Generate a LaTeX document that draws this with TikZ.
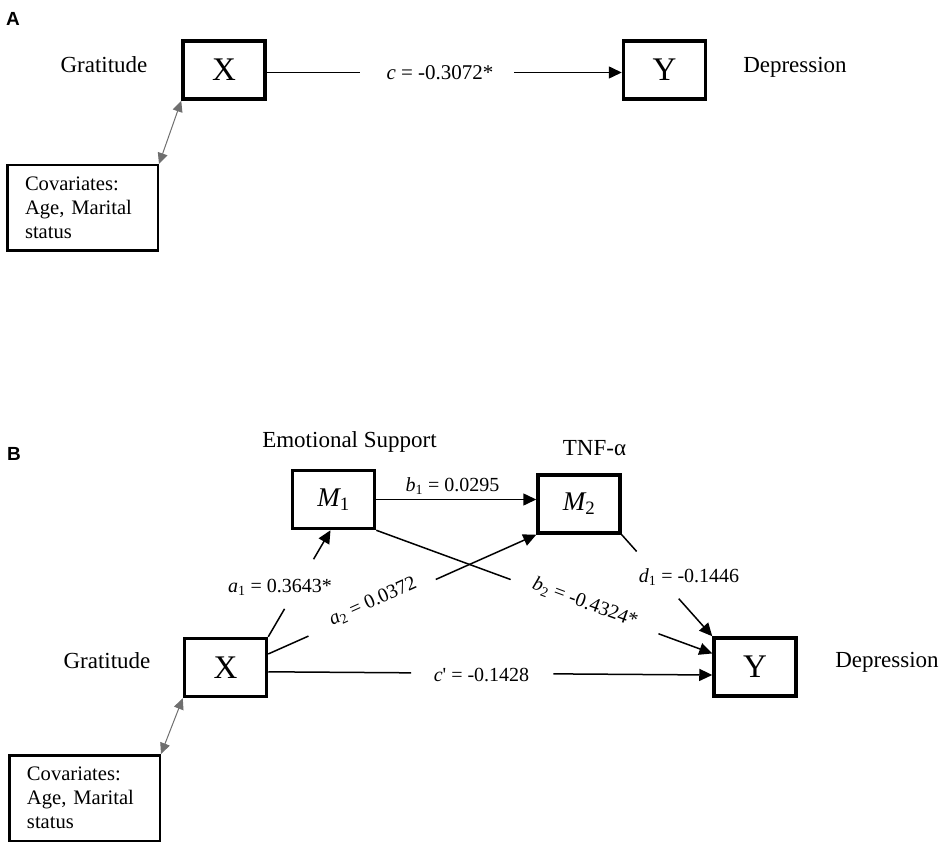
\documentclass[tikz,border=0pt]{standalone}
\usepackage{fontspec}
\setmainfont{Liberation Serif}
\newfontfamily\panelfont{Liberation Sans}
\usetikzlibrary{arrows.meta,calc}
\definecolor{covgray}{HTML}{6F6F6F}
\begin{document}
\begin{tikzpicture}[x=1pt,y=-1pt,
  varbox/.style={draw,line width=3.5pt,minimum width=82pt,minimum height=58pt,inner sep=0pt,font=\fontsize{33}{36}\selectfont},
  mbox/.style={varbox,font=\fontsize{27}{30}\selectfont},
  covbox/.style={draw,line width=2.5pt,minimum width=150.5pt,minimum height=85.5pt,inner xsep=17.75pt,text width=115pt,align=left,font=\fontsize{20.6}{24}\selectfont},
  lab/.style={font=\fontsize{23}{27}\selectfont,inner sep=0pt,anchor=base},
  coef/.style={font=\fontsize{20}{24}\selectfont,inner sep=0pt},
  panel/.style={font={\panelfont\bfseries\fontsize{19}{22}\selectfont},inner sep=0pt},
  conn/.style={line width=1.5pt},
  arr/.style={conn,-{Triangle[length=13pt,width=12pt]}},
  covarr/.style={line width=1pt,draw=covgray,{Triangle[length=11pt,width=10pt,fill=covgray]}-{Triangle[length=11pt,width=10pt,fill=covgray]}}
]
\useasboundingbox (0,0) rectangle (945,850);

% ---------------- Panel A ----------------
\node[panel] (PA) at (13,19) {A};
\node[varbox] (XA) at (224,70) {X};
\node[varbox] (YA) at (664.5,70) {Y};
\node[covbox] (CA) at (82.5,208) {Covariates:\\Age, Marital\\status};
\node[lab] (GA) at (104,72.5) {Gratitude};
\node[lab] (DA) at (795,72.5) {Depression};
\node[coef,font=\fontsize{21}{24}\selectfont,anchor=base] (cA) at (440,80) {{\itshape c} = -0.3072*};
\coordinate (cAl) at (360,72.5);
\coordinate (cAr) at (514,72.5);
\draw[conn] (XA.east |- cAl) -- (cAl);
\draw[arr] (cAr) -- (YA.west |- cAr);
\draw[covarr] (XA.south west) -- (CA.north east);

% ---------------- Panel B ----------------
\node[panel] (PB) at (14,454) {B};
\node[varbox] (XB) at (225.5,667.5) {X};
\node[mbox] (M1) at (333.5,499.5) {{\itshape M}\textsubscript{1}};
\node[mbox] (M2) at (579,504) {{\itshape M}\textsubscript{2}};
\node[varbox] (YB) at (755,667) {Y};
\node[covbox] (CB) at (84.5,798) {Covariates:\\Age, Marital\\status};
\node[lab] (GB) at (107,668) {Gratitude};
\node[lab] (DB) at (887,667) {Depression};
\node[lab] (ES) at (349.5,447) {Emotional Support};
\node[lab] (TNF) at (594.5,455) {TNF-α};

% b1
\draw[arr] (M1.east) -- (M2.west |- M1.east);
\node[coef,anchor=base] (b1) at (452.5,491) {{\itshape b}\textsubscript{1} = 0.0295};

% a1
\coordinate (a1t) at ($(M1.south west)!0.465!(M1.south east)$);
\draw[conn] (XB.north east) -- ($(XB.north east)!0.262!(a1t)$);
\draw[arr] ($(XB.north east)!0.728!(a1t)$) -- (a1t);
\node[coef,anchor=base] (a1) at (280,592) {{\itshape a}\textsubscript{1} = 0.3643*};

% a2
\coordinate (a2s) at ($(XB.north east)!0.28!(XB.south east)$);
\draw[conn] (a2s) -- ($(a2s)!0.15!(M2.south west)$);
\draw[arr] ($(a2s)!0.625!(M2.south west)$) -- (M2.south west);
\node[coef,rotate=24.2] (a2) at (373,602) {{\itshape a}\textsubscript{2} = 0.0372};

% b2
\coordinate (b2t) at ($(YB.north west)!0.28!(YB.south west)$);
\draw[conn] (M1.south east) -- ($(M1.south east)!0.40!(b2t)$);
\draw[arr] ($(M1.south east)!0.84!(b2t)$) -- (b2t);
\node[coef,rotate=-20.3] (b2) at (585,603) {{\itshape b}\textsubscript{2} = -0.4324*};

% d1
\draw[conn] (M2.south east) -- ($(M2.south east)!0.165!(YB.north west)$);
\draw[arr] ($(M2.south east)!0.63!(YB.north west)$) -- (YB.north west);
\node[coef,anchor=base] (d1) at (689,582) {{\itshape d}\textsubscript{1} = -0.1446};

% c'
\coordinate (cps) at ($(XB.north east)!0.57!(XB.south east)$);
\coordinate (cpt) at ($(YB.north west)!0.63!(YB.south west)$);
\draw[conn] (cps) -- ($(cps)!0.322!(cpt)$);
\draw[arr] ($(cps)!0.642!(cpt)$) -- (cpt);
\node[coef,anchor=base] (cp) at (481.5,681) {{\itshape c}\textquotesingle{} = -0.1428};

% covariates
\draw[covarr] (XB.south west) -- (CB.north east);
\end{tikzpicture}
\end{document}
